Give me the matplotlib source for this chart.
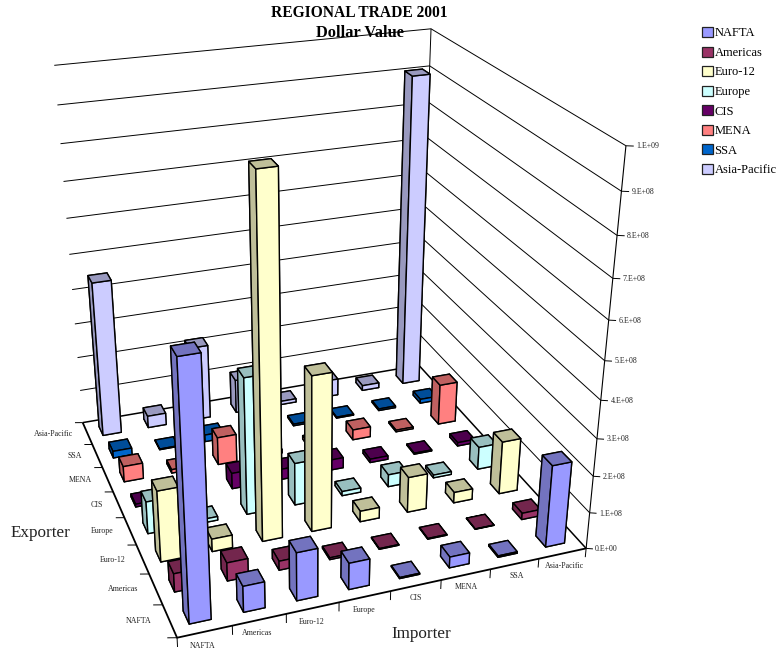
import numpy as np
import matplotlib
matplotlib.use('Agg')
import matplotlib.pyplot as plt
from matplotlib.patches import Patch
from mpl_toolkits.mplot3d import Axes3D, proj3d
from mpl_toolkits.mplot3d.art3d import Line3DCollection

regions = ['NAFTA', 'Americas', 'Euro-12', 'Europe', 'CIS', 'MENA', 'SSA', 'Asia-Pacific']
colors = ['#9999FF', '#993366', '#FFFFCC', '#CCFFFF', '#660066', '#FF8080', '#0066CC', '#CCCCFF']

# one list per exporter, importers in the order of regions
nafta = [6.6e8, 0.7e8, 1.3e8, 0.72e8, 0.03e8, 0.3e8, 0.04e8, 2.25e8]
americas = [0.5e8, 0.5e8, 0.25e8, 0.05e8, 0.02e8, 0.02e8, 0.01e8, 0.18e8]
euro12 = [1.95e8, 0.35e8, 9.4e8, 4.25e8, 0.3e8, 1.0e8, 0.3e8, 1.5e8]
europe = [0.9e8, 0.1e8, 3.8e8, 1.2e8, 0.12e8, 0.35e8, 0.08e8, 0.65e8]
cis = [0.08e8, 0.1e8, 0.45e8, 0.3e8, 0.3e8, 0.1e8, 0.03e8, 0.1e8]
mena = [0.45e8, 0.1e8, 0.8e8, 0.1e8, 0.1e8, 0.3e8, 0.05e8, 1.2e8]
ssa = [0.2e8, 0.02e8, 0.2e8, 0.05e8, 0.05e8, 0.03e8, 0.05e8, 0.12e8]
asia_pacific = [4.5e8, 0.35e8, 2.2e8, 1.0e8, 0.1e8, 0.5e8, 0.15e8, 9.05e8]
trade = [nafta, americas, euro12, europe, cis, mena, ssa, asia_pacific]

z_ticks = [0, 1e8, 2e8, 3e8, 4e8, 5e8, 6e8, 7e8, 8e8, 9e8, 1e9]
z_labels = ['0.E+00', '1.E+08', '2.E+08', '3.E+08', '4.E+08', '5.E+08',
            '6.E+08', '7.E+08', '8.E+08', '9.E+08', '1.E+09']

plt.rcParams['font.family'] = ['Liberation Serif', 'DejaVu Serif']

W, H = 778, 652
fig = plt.figure(figsize=(W / 100, H / 100), dpi=100)
h = W / H
ax = fig.add_axes([0, (1 - h) / 2, 1, h], projection='3d', computed_zorder=False)
ax.set_axis_off()

# camera fitted to where the box corners should land on the page (x, y, z in 0-8, 0-8, 0-1)
world = np.array([[0, 0, 0], [8, 0, 0], [0, 8, 0], [8, 8, 0], [0, 8, 1], [8, 8, 1], [8, 0, 1]], float)
page = np.array([[177, 639], [587, 547], [83, 421], [418, 367], [54, 66], [432, 28], [625, 146]], float)


def fit_camera():
    rows = []
    for (X, Y, Z), (u, v) in zip(world, page / 1000):
        rows.append([X, Y, Z, 1, 0, 0, 0, 0, -u * X, -u * Y, -u * Z, -u])
        rows.append([0, 0, 0, 0, X, Y, Z, 1, -v * X, -v * Y, -v * Z, -v])
    cam = np.linalg.svd(np.array(rows))[2][-1].reshape(3, 4)
    if cam[2] @ [4, 4, 0, 1] < 0:
        cam = -cam
    return cam


camera = fit_camera()


def page_proj():
    # page pixels -> display -> the 2d data coords of the 3d axes
    flip = np.array([[1000, 0, 0], [0, -1000, H], [0, 0, 1]], float)
    to_data = ax.transData.inverted().get_matrix()
    p = to_data @ flip @ camera
    w = camera[2]
    ref = w @ [4, 4, 0, 1]
    M = np.vstack([p[0], p[1], w - np.array([0, 0, 0, 0.5 * ref]), w])
    return M @ np.diag([1, 1, 1e-9, 1])


ax.get_proj = page_proj


def line(xs, ys, zs, lw=0.7):
    seg = np.column_stack([xs, ys, zs]).astype(float)
    ax.add_collection3d(Line3DCollection([seg], colors='k', linewidths=lw, zorder=1), autolim=False)


def label(x, y, z, text, ha):
    px, py, _ = proj3d.proj_transform(x, y, z, page_proj())
    ax.text2D(px, py, text, transform=ax.transData, fontsize=5.7, ha=ha, va='center',
              color='#222222', zorder=200)


ax.apply_aspect()

# walls
for z in z_ticks[1:]:
    line([0, 8, 8], [8, 8, 0], [z, z, z])
line([8, 8], [8, 8], [0, 1e9])
line([8, 8], [0, 0], [0, 1e9], lw=0.8)

# floor edges
line([0, 8, 8], [8, 8, 0], [0, 0, 0], lw=1.1)
line([0, 0, 8], [8, 0, 0], [0, 0, 0], lw=1.3)

# ticks and tick labels
for i in range(9):
    line([i, i], [0, 0], [0, -0.25e8])
    line([0, -0.16], [i, i + 0.055], [0, 0])
for i, name in enumerate(regions):
    label(i + 0.35, -0.36, 0, name, 'center')
    label(-0.3, i + 0.6, 0, name, 'right')
for z, text in zip(z_ticks, z_labels):
    line([8, 8.113], [0, -0.058], [z, z])
    label(8.15, -0.08, z, text, 'left')

# bars, back to front so nearer ones cover the farther ones
bar_w = 0.4
for row in range(7, -1, -1):
    light = matplotlib.colors.to_rgb(colors[row])
    dark = tuple(0.75 * c for c in light)
    faces = [dark, dark, light, light, dark, dark]
    for col in range(7, -1, -1):
        ax.bar3d(col + 0.3, row + 0.3, 0, bar_w, bar_w, trade[row][col], color=faces, shade=False,
                 edgecolor='k', linewidth=1.0, zorder=10 + (7 - row) * 8 + (7 - col))

fig.text(359 / W, 1 - 13 / H, 'REGIONAL TRADE 2001', fontsize=11.2, fontweight='bold', ha='center', va='center')
fig.text(359.5 / W, 1 - 33 / H, 'Dollar Value', fontsize=11.8, fontweight='bold', ha='center', va='center')
fig.text(40.5 / W, 1 - 533 / H, 'Exporter', fontsize=12.3, ha='center', va='center', color='#222222')
fig.text(421.5 / W, 1 - 634 / H, 'Importer', fontsize=12.3, ha='center', va='center', color='#222222')

handles = [Patch(facecolor=c, edgecolor='#222222', lw=0.9, label=n) for c, n in zip(colors, regions)]
fig.legend(handles=handles, loc='upper left', bbox_to_anchor=(702 / W, 1 - 27 / H), frameon=False, fontsize=9,
           handlelength=0.85, handleheight=0.85, handletextpad=0.15, labelspacing=0.58, borderaxespad=0, borderpad=0)

fig.savefig('out.png', dpi=100)
